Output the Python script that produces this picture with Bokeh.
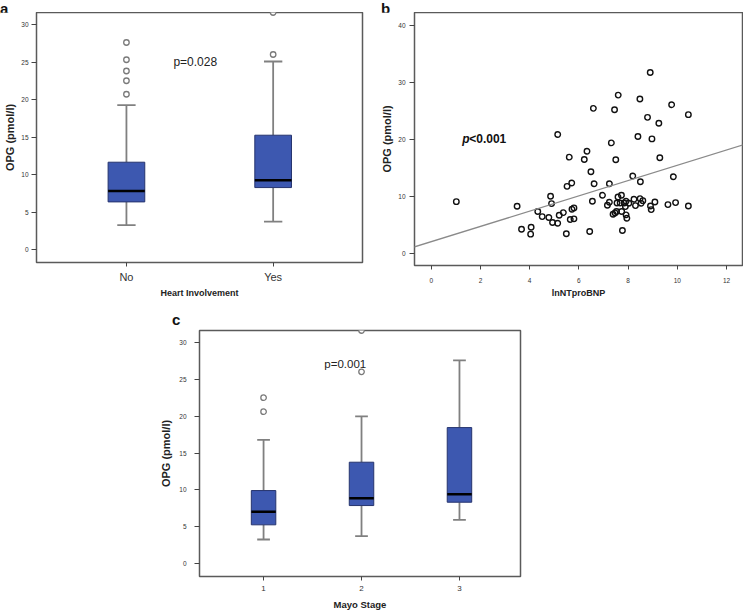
from bokeh.plotting import figure
from bokeh.layouts import column, row, Spacer
from bokeh.models import Range1d, FixedTicker, Label, Slope, Div
from bokeh.embed import file_html
from bokeh.resources import INLINE

FONT = "Liberation Sans"
BOX_FILL = "#3d58b0"
BOX_LINE = "#26346e"
WHISKER = "#808080"

# ---------------- Panel a: OPG by heart involvement ----------------
heart_groups = ["No", "Yes"]
heart_q1 = [6.35, 8.26]
heart_median = [7.8, 9.24]
heart_q3 = [11.64, 15.24]
heart_lower = [3.24, 3.73]
heart_upper = [19.24, 25.07]
heart_outlier_group = ["No", "No", "No", "No", "No", "Yes", "Yes"]
heart_outlier_value = [20.7, 22.5, 23.8, 25.3, 27.6, 26.0, 31.6]

# ---------------- Panel b: OPG vs lnNTproBNP ----------------
bnp_ln = [1.02, 3.49, 3.67, 4.06, 4.04, 4.33, 4.51, 4.78, 4.85, 4.89, 4.93, 5.14, 5.14,
          5.20, 5.37, 5.49, 5.52, 5.61, 5.71, 5.65, 5.72, 5.80, 5.80, 6.22, 6.33, 6.44,
          6.49, 6.55, 6.59, 6.62, 6.96, 7.16, 7.24, 7.24, 7.32, 7.39, 7.47, 7.53, 7.45,
          7.50, 7.60, 7.55, 7.59, 7.68, 7.73, 7.74, 7.77, 7.84, 7.89, 7.92, 7.92, 7.95,
          8.03, 8.19, 8.24, 8.30, 8.40, 8.48, 8.49, 8.50, 8.53, 8.60, 8.79, 8.90, 8.91,
          8.94, 8.97, 9.09, 9.25, 9.29, 9.62, 9.77, 9.84, 9.93, 10.45, 10.45]
bnp_opg = [9.02, 8.21, 4.19, 4.54, 3.32, 7.28, 6.40, 6.23, 9.96, 8.68, 5.36, 20.79, 5.24,
           6.64, 7.10, 3.38, 11.70, 16.83, 12.29, 5.88, 7.69, 7.92, 6.00, 16.42, 17.87, 3.78,
           14.26, 9.08, 25.39, 12.17, 10.13, 8.38, 8.91, 12.17, 19.33, 6.81, 7.05, 7.28, 25.15,
           16.36, 27.71, 8.79, 9.84, 8.79, 10.13, 7.28, 3.96, 8.79, 8.15, 9.08, 6.70, 6.11,
           8.73, 13.51, 9.43, 8.33, 20.44, 27.02, 9.55, 12.52, 8.73, 9.20, 23.81, 31.67, 8.27,
           7.63, 20.03, 8.97, 22.77, 16.71, 8.50, 26.03, 13.39, 8.85, 24.28, 8.27]
fit_intercept = 2.0
fit_slope = 1.34

# ---------------- Panel c: OPG by Mayo stage ----------------
mayo_stages = ["1", "2", "3"]
mayo_q1 = [5.28, 7.89, 8.34]
mayo_median = [7.04, 8.89, 9.43]
mayo_q3 = [9.92, 13.76, 18.45]
mayo_lower = [3.29, 3.74, 5.95]
mayo_upper = [16.78, 19.98, 27.56]
mayo_outlier_stage = ["1", "1", "2", "2"]
mayo_outlier_value = [20.6, 22.5, 26.0, 31.6]


def style_axis(ax, tick_size, label_size, tick_out, standoff, label_standoff):
    ax.axis_line_color = None
    ax.major_tick_out = tick_out
    ax.major_tick_in = 0
    ax.major_tick_line_color = "#444444"
    ax.major_tick_line_width = 1
    ax.minor_tick_line_color = None
    ax.major_label_text_font = FONT
    ax.major_label_text_font_size = tick_size
    ax.major_label_text_color = "#333333"
    ax.major_label_standoff = standoff
    ax.axis_label_text_font = FONT
    ax.axis_label_text_font_size = label_size
    ax.axis_label_text_font_style = "bold"
    ax.axis_label_text_color = "#222222"
    ax.axis_label_standoff = label_standoff


def make_fig(w, h, xr, yr, ml, mr, mt, mb):
    p = figure(width=w, height=h, x_range=Range1d(*xr), y_range=Range1d(*yr),
               output_backend="svg", toolbar_location=None,
               min_border_left=ml, min_border_right=mr, min_border_top=mt,
               min_border_bottom=mb)
    p.grid.visible = False
    p.outline_line_color = "#5a5a5a"
    p.outline_line_width = 1.5
    p.background_fill_color = "white"
    p.border_fill_color = "white"
    return p


def letter(text, w, h, pad_left, pad_top):
    html = ('<div style="font: bold 15px \'Liberation Sans\', Arial, sans-serif; '
            'line-height: 17px; color: #111111; padding-left: %dpx; padding-top: %dpx;">%s</div>'
            % (pad_left, pad_top, text))
    return Div(text=html, width=w, height=h, margin=0)


def draw_boxes(p, groups, q1, med, q3, lo, hi, og, ov, bw, cw):
    xs = [i + 1 for i in range(len(groups))]
    p.segment(x0=xs, y0=q3, x1=xs, y1=hi, line_color=WHISKER, line_width=1.8)
    p.segment(x0=xs, y0=q1, x1=xs, y1=lo, line_color=WHISKER, line_width=1.8)
    p.segment(x0=[x - cw / 2 for x in xs], y0=hi, x1=[x + cw / 2 for x in xs], y1=hi,
              line_color=WHISKER, line_width=1.8)
    p.segment(x0=[x - cw / 2 for x in xs], y0=lo, x1=[x + cw / 2 for x in xs], y1=lo,
              line_color=WHISKER, line_width=1.8)
    p.vbar(x=xs, width=bw, bottom=q1, top=q3, fill_color=BOX_FILL,
           line_color=BOX_LINE, line_width=1)
    p.segment(x0=[x - bw / 2 for x in xs], y0=med, x1=[x + bw / 2 for x in xs], y1=med,
              line_color="#000000", line_width=2.5)
    ox = [groups.index(g) + 1 for g in og]
    p.scatter(x=ox, y=ov, marker="circle", size=5.5, fill_color="white",
              line_color="#7a7a7a", line_width=1.3)
    p.xaxis.ticker = FixedTicker(ticks=xs)
    p.xaxis.major_label_overrides = {x: g for x, g in zip(xs, groups)}


# ---- figure a ----
fa = make_fig(378, 288, (0.387, 2.609), (-1.73, 31.6), 36, 16, 0, 37)
draw_boxes(fa, heart_groups, heart_q1, heart_median, heart_q3, heart_lower, heart_upper,
           heart_outlier_group, heart_outlier_value, 0.25, 0.125)
fa.yaxis.ticker = FixedTicker(ticks=[0, 5, 10, 15, 20, 25, 30])
fa.xaxis.axis_label = "Heart Involvement"
fa.yaxis.axis_label = "OPG (pmol/l)"
style_axis(fa.xaxis[0], "11px", "9px", 4, 4, 2)
style_axis(fa.yaxis[0], "6.5px", "11px", 5, 3, 2)
fa.add_layout(Label(x=1.32, y=25.0, text="p=0.028", text_font=FONT, text_font_size="12px",
                    text_color="#222222", text_baseline="middle"))

# ---- figure b ----
fb = make_fig(365, 288, (-0.68, 12.65), (-2.18, 42.2), 36, 1, 0, 33)
fb.add_layout(Slope(gradient=fit_slope, y_intercept=fit_intercept, line_color="#8a8a8a",
                    line_width=1.3))
fb.scatter(x=bnp_ln, y=bnp_opg, marker="circle", size=5.5, fill_color=None,
           line_color="#111111", line_width=1.4)
fb.xaxis.ticker = FixedTicker(ticks=[0, 2, 4, 6, 8, 10, 12])
fb.yaxis.ticker = FixedTicker(ticks=[0, 10, 20, 30, 40])
fb.xaxis.axis_label = "lnNTproBNP"
fb.yaxis.axis_label = "OPG (pmol/l)"
style_axis(fb.xaxis[0], "6.5px", "9px", 4, 8, 2)
style_axis(fb.yaxis[0], "6.5px", "11px", 5, 4, 2)
fb.add_layout(Label(x=1.26, y=20.0, text="p", text_font=FONT, text_font_size="12px",
                    text_font_style="bold italic", text_color="#111111",
                    text_baseline="middle"))
fb.add_layout(Label(x=1.26, y=20.0, x_offset=7, text="<0.001", text_font=FONT,
                    text_font_size="12px", text_font_style="bold", text_color="#111111",
                    text_baseline="middle"))

# ---- figure c ----
fc = make_fig(380, 284, (0.346, 3.623), (-1.72, 31.6), 44, 15, 2, 36)
draw_boxes(fc, mayo_stages, mayo_q1, mayo_median, mayo_q3, mayo_lower, mayo_upper,
           mayo_outlier_stage, mayo_outlier_value, 0.25, 0.13)
fc.yaxis.ticker = FixedTicker(ticks=[0, 5, 10, 15, 20, 25, 30])
fc.xaxis.axis_label = "Mayo Stage"
fc.yaxis.axis_label = "OPG (pmol/l)"
style_axis(fc.xaxis[0], "8px", "9.5px", 4, 5, 5)
style_axis(fc.yaxis[0], "6.5px", "11px", 5, 8, 4)
fc.add_layout(Label(x=1.62, y=27.0, text="p=0.001", text_font=FONT, text_font_size="11.5px",
                    text_color="#222222", text_baseline="middle"))

col_a = column(letter("a", 378, 12, 0, 0), fa)
col_b = column(letter("b", 365, 12, 3, 0), fb)
col_c = column(letter("c", 380, 28, 17, 11), fc)
layout = column(row(col_a, col_b), row(Spacer(width=155, height=312, margin=0), col_c))

open("out.html", "w").write(file_html(layout, INLINE))
